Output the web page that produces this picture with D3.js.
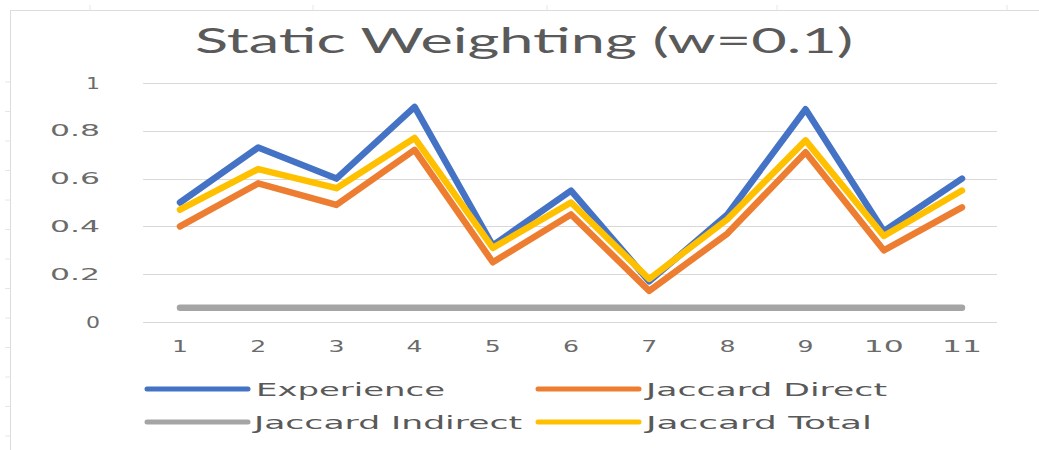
<!DOCTYPE html>
<html>
<head>
<meta charset="utf-8">
<script src="https://cdn.jsdelivr.net/npm/d3@7"></script>
<style>
  html, body { margin: 0; padding: 0; background: #fff; }
  svg { display: block; }
</style>
</head>
<body>
<svg id="chart" width="1039" height="450"></svg>
<script>
const categories = ["1","2","3","4","5","6","7","8","9","10","11"];
const experience       = [0.50, 0.73, 0.60, 0.90, 0.32, 0.55, 0.17, 0.45, 0.89, 0.38, 0.60];
const jaccardDirect    = [0.40, 0.58, 0.49, 0.72, 0.25, 0.45, 0.13, 0.37, 0.71, 0.30, 0.48];
const jaccardIndirect  = [0.06, 0.06, 0.06, 0.06, 0.06, 0.06, 0.06, 0.06, 0.06, 0.06, 0.06];
const jaccardTotal     = [0.47, 0.64, 0.56, 0.77, 0.31, 0.50, 0.18, 0.43, 0.76, 0.36, 0.55];
const seriesNames = ["Experience", "Jaccard Direct", "Jaccard Indirect", "Jaccard Total"];
const seriesColors = ["#4472C4", "#ED7D31", "#A5A5A5", "#FFC000"];
const yTicks = [0, 0.2, 0.4, 0.6, 0.8, 1];
const titleText = "Static Weighting (w=0.1)";

const series = [experience, jaccardDirect, jaccardIndirect, jaccardTotal];
const svg = d3.select("#chart");

// frame (spreadsheet-like border)
const frame = svg.append("g").attr("stroke", "#dcdcdc").attr("fill", "none");
frame.append("line").attr("x1", 10).attr("x2", 1039).attr("y1", 10.5).attr("y2", 10.5);
frame.append("line").attr("x1", 10.5).attr("x2", 10.5).attr("y1", 10).attr("y2", 450);
d3.range(82, 450, 29.5).forEach(y => {
  frame.append("line").attr("x1", 5).attr("x2", 10).attr("y1", y).attr("y2", y).attr("stroke", "#e6e6e6");
});
[90, 313, 547, 777, 1007].forEach(x => {
  frame.append("line").attr("x1", x).attr("x2", x).attr("y1", 5).attr("y2", 10).attr("stroke", "#e6e6e6");
});

const plotLeft = 143, plotRight = 997;
const y = d3.scaleLinear().domain([0, 1]).range([322, 83]);
const x = d3.scalePoint().domain(categories).range([180, 962]);

// gridlines
svg.append("g").selectAll("line").data(yTicks).join("line")
  .attr("x1", plotLeft).attr("x2", plotRight)
  .attr("y1", d => Math.round(y(d)) + 0.5).attr("y2", d => Math.round(y(d)) + 0.5)
  .attr("stroke", "#d9d9d9").attr("stroke-width", 1);

// y labels
const yFmt = d => d === 0 ? "0" : d === 1 ? "1" : d3.format(".1f")(d);
svg.append("g").selectAll("text").data(yTicks).join("text")
  .attr("x", 100).attr("y", d => y(d) + 5.5)
  .attr("text-anchor", "end")
  .attr("font-family", "DejaVu Sans, sans-serif")
  .attr("font-size", 16).attr("fill", "#6b6b6b")
  .attr("textLength", d => yFmt(d).length === 1 ? 14 : 50)
  .attr("lengthAdjust", "spacingAndGlyphs")
  .text(yFmt);

// x labels
svg.append("g").selectAll("text").data(categories).join("text")
  .attr("x", d => x(d)).attr("y", 352)
  .attr("text-anchor", "middle")
  .attr("font-family", "DejaVu Sans, sans-serif")
  .attr("font-size", 16).attr("fill", "#6b6b6b")
  .attr("textLength", d => d.length === 1 ? 16 : 40)
  .attr("lengthAdjust", "spacingAndGlyphs")
  .text(d => d);

// lines
const line = d3.line().x((d, i) => x(categories[i])).y(d => y(d));
svg.append("g").selectAll("path").data(series).join("path")
  .attr("d", d => line(d))
  .attr("fill", "none")
  .attr("stroke", (d, i) => seriesColors[i])
  .attr("stroke-width", 6.5)
  .attr("stroke-linejoin", "round")
  .attr("stroke-linecap", "round");

// title
svg.append("text")
  .attr("x", 524).attr("y", 53)
  .attr("text-anchor", "middle")
  .attr("font-family", "Lato, Open Sans, sans-serif")
  .attr("font-size", 34).attr("fill", "#5a5a5a")
  .attr("textLength", 658).attr("lengthAdjust", "spacingAndGlyphs")
  .text(titleText);

// legend
const legendPos = [
  {lx: 147, tx: 256, y: 389, w: 189},
  {lx: 538, tx: 646, y: 389, w: 241},
  {lx: 147, tx: 254, y: 422, w: 268},
  {lx: 538, tx: 646, y: 422, w: 226}
];
const lg = svg.append("g").selectAll("g").data(seriesNames).join("g");
lg.append("line")
  .attr("x1", (d, i) => legendPos[i].lx).attr("x2", (d, i) => legendPos[i].lx + 101)
  .attr("y1", (d, i) => legendPos[i].y).attr("y2", (d, i) => legendPos[i].y)
  .attr("stroke", (d, i) => seriesColors[i]).attr("stroke-width", 5)
  .attr("stroke-linecap", "round");
lg.append("text")
  .attr("x", (d, i) => legendPos[i].tx).attr("y", (d, i) => legendPos[i].y + 7)
  .attr("font-family", "DejaVu Sans, sans-serif")
  .attr("font-size", 18).attr("fill", "#595959")
  .attr("textLength", (d, i) => legendPos[i].w)
  .attr("lengthAdjust", "spacingAndGlyphs")
  .text(d => d);
</script>
</body>
</html>
